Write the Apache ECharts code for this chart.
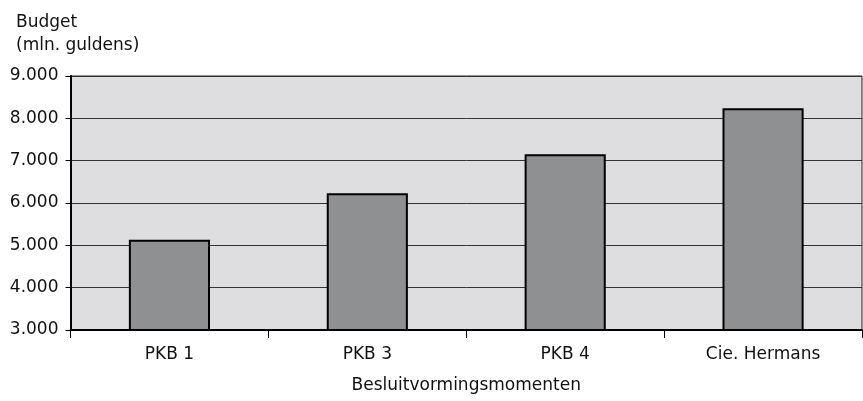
<!DOCTYPE html>
<html>
<head>
<meta charset="utf-8">
<script src="https://cdn.jsdelivr.net/npm/echarts@6/dist/echarts.min.js"></script>
<style>
html,body{margin:0;padding:0;background:#fff;}
#c{width:863px;height:401px;}
</style>
</head>
<body>
<div id="c"></div>
<script>
var categories = ['PKB 1', 'PKB 3', 'PKB 4', 'Cie. Hermans'];
var budget = [5130, 6230, 7150, 8240];
var yTicks = [3000, 4000, 5000, 6000, 7000, 8000, 9000];

var FONT = '"DejaVu Sans", "Liberation Sans", sans-serif';
var chart = echarts.init(document.getElementById('c'), null, {renderer: 'canvas'});
chart.setOption({
  animation: false,
  textStyle: {fontFamily: FONT},
  title: {
    text: 'Budget\n(mln. guldens)',
    left: 11, top: 6,
    textStyle: {fontFamily: FONT, fontSize: 17, fontWeight: 'normal', color: '#111', lineHeight: 23}
  },
  grid: {
    left: 70.5, right: 1, top: 76, bottom: 71,
    show: true, backgroundColor: '#dedee0', borderColor: '#222', borderWidth: 1
  },
  xAxis: {
    type: 'category',
    data: categories,
    name: 'Besluitvormingsmomenten',
    nameLocation: 'middle',
    nameGap: 47,
    nameTextStyle: {fontFamily: FONT, fontSize: 17, color: '#111'},
    axisLine: {lineStyle: {color: '#000', width: 2}},
    axisTick: {show: true, length: 8, lineStyle: {color: '#000', width: 1}},
    axisLabel: {fontFamily: FONT, fontSize: 17, color: '#111', margin: 16}
  },
  yAxis: {
    type: 'value',
    min: yTicks[0], max: yTicks[yTicks.length - 1], interval: 1000,
    axisLine: {show: true, lineStyle: {color: '#000', width: 2}},
    axisTick: {show: true, length: 5, lineStyle: {color: '#000'}},
    splitLine: {show: true, lineStyle: {color: '#333', width: 1}},
    axisLabel: {
      fontFamily: FONT, fontSize: 17, color: '#111', margin: 12,
      formatter: function (v) { return String(v).replace(/\B(?=(\d{3})+(?!\d))/g, '.'); }
    }
  },
  series: [{
    type: 'bar',
    data: budget,
    barWidth: '41%',
    itemStyle: {color: '#8f9092', borderColor: '#000', borderWidth: 2}
  }]
});
</script>
</body>
</html>
